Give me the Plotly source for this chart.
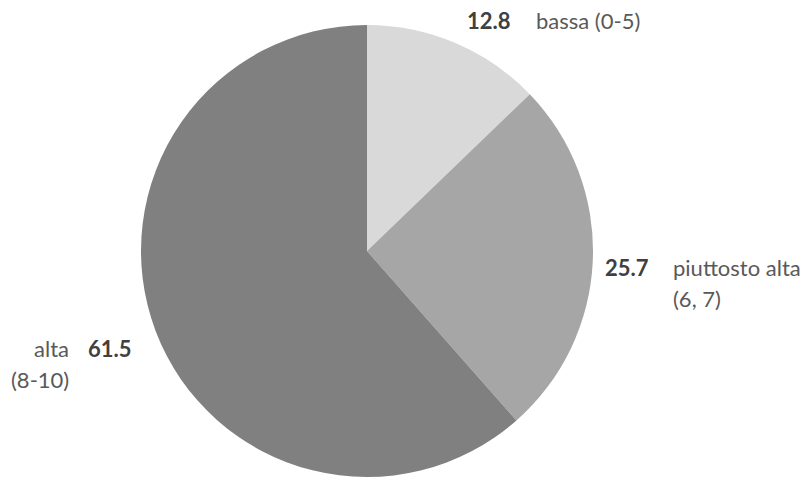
import plotly.graph_objects as go

categories = ["bassa (0-5)", "piuttosto alta (6, 7)", "alta (8-10)"]
values = [12.8, 25.7, 61.5]
colors = ["#d9d9d9", "#a6a6a6", "#808080"]

W, H = 803, 478
fig = go.Figure(go.Pie(
    labels=categories, values=values, sort=False, direction="clockwise", rotation=0,
    marker=dict(colors=colors, line=dict(color="white", width=0)),
    textinfo="none", hoverinfo="label+value", showlegend=False,
    domain=dict(x=[141 / W, 593 / W], y=[1 - 477 / H, 1 - 25 / H]),
))

def px(x, y):
    return x / W, 1 - y / H

FONT = "Lato, 'Open Sans', sans-serif"
ann = []
def add(text, x, y, xanchor, bold=False):
    ax, ay = px(x, y)
    ann.append(dict(text=f"<b>{text}</b>" if bold else text, x=ax, y=ay, xref="paper", yref="paper",
                    xanchor=xanchor, yanchor="middle", showarrow=False,
                    font=dict(family=FONT, size=22, color="#404040" if bold else "#595959")))

add(f"{values[0]}", 513, 21, "right", True)
add("bassa (0-5)", 534, 21, "left")
add(f"{values[1]}", 651, 267, "right", True)
add("piuttosto alta", 671, 267, "left")
add("(6, 7)", 671, 298, "left")
add(f"{values[2]}", 134, 348, "right", True)
add("alta", 71, 348, "right")
add("(8-10)", 71, 379, "right")

fig.update_layout(width=W, height=H, margin=dict(l=0, r=0, t=0, b=0),
                  paper_bgcolor="white", plot_bgcolor="white", annotations=ann)
fig.write_html("out.html", config={"displayModeBar": False},
               post_script="document.body.style.margin='0';document.body.style.padding='0';")
